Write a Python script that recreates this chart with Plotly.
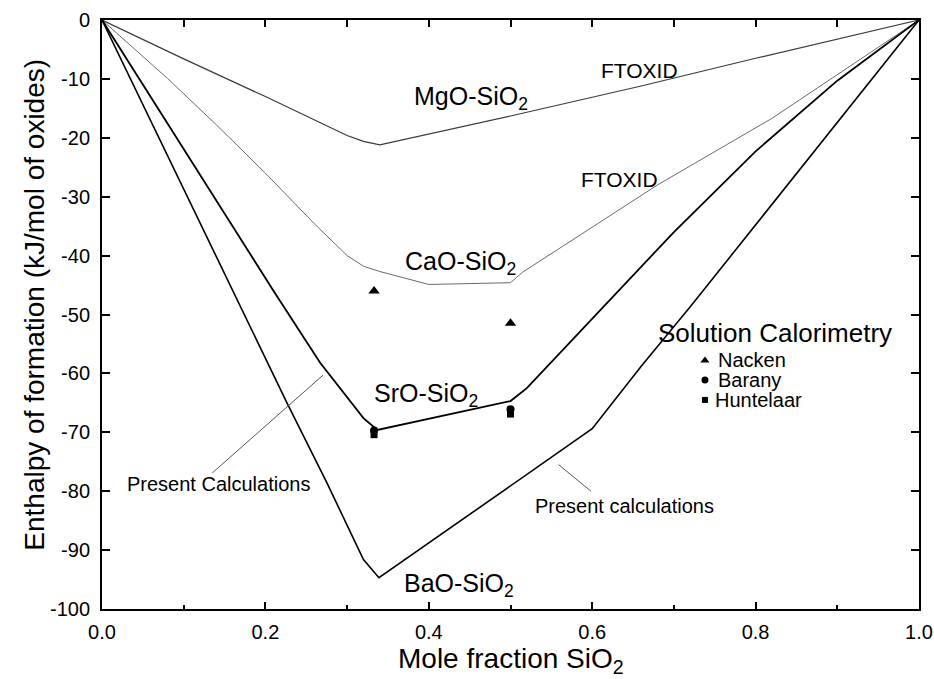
import plotly.graph_objects as go

# ---------------- data ----------------
mgo_x = [0, 0.10, 0.20, 0.26, 0.30, 0.32, 0.34, 0.50, 0.66, 0.80, 1.0]
mgo_y = [0, -6.6, -13.0, -17.0, -19.6, -20.6, -21.2, -16.3, -11.2, -6.5, 0]

cao_x = [0, 0.08, 0.14, 0.20, 0.26, 0.30, 0.32, 0.34, 0.40, 0.50, 0.515, 0.68, 0.82, 1.0]
cao_y = [0, -9.9, -17.8, -26.0, -34.6, -40.0, -41.8, -42.7, -44.9, -44.6, -42.8, -28.0, -16.7, 0]

sro_x = [0, 0.21, 0.267, 0.32, 0.337, 0.50, 0.52, 0.60, 0.70, 0.80, 0.90, 1.0]
sro_y = [0, -46.0, -58.2, -67.6, -69.6, -64.7, -62.5, -50.8, -36.0, -22.3, -10.3, 0]

bao_x = [0, 0.2264, 0.275, 0.32, 0.339, 0.60, 0.66, 0.72, 1.0]
bao_y = [0, -65.0, -78.5, -91.6, -94.7, -69.4, -58.8, -48.7, 0]

nacken_x = [0.333, 0.5]
nacken_y = [-46.0, -51.5]
barany_x = [0.333, 0.5]
barany_y = [-69.7, -66.1]
huntelaar_x = [0.333, 0.5]
huntelaar_y = [-70.4, -66.9]

x_ticks = [0.0, 0.2, 0.4, 0.6, 0.8, 1.0]
y_ticks = [0, -10, -20, -30, -40, -50, -60, -70, -80, -90, -100]

FONT = "Arial, Liberation Sans, sans-serif"

fig = go.Figure()

def curve(x, y, color, width):
    fig.add_trace(go.Scatter(x=x, y=y, mode="lines",
                             line=dict(color=color, width=width),
                             showlegend=False, hoverinfo="skip", cliponaxis=False))

curve(mgo_x, mgo_y, "#3a3a3a", 1.2)
curve(cao_x, cao_y, "#6a6a6a", 1.0)
curve(sro_x, sro_y, "#000000", 1.8)
curve(bao_x, bao_y, "#000000", 1.6)

def pts(x, y, symbol, size):
    fig.add_trace(go.Scatter(x=x, y=y, mode="markers",
                             marker=dict(symbol=symbol, size=size, color="black"),
                             showlegend=False, hoverinfo="skip"))

pts(nacken_x, nacken_y, "triangle-up", 10)
pts(barany_x, barany_y, "circle", 8)
pts(huntelaar_x, huntelaar_y, "square", 7)

# custom legend markers
leg_x = 0.738
pts([leg_x], [-57.8], "triangle-up", 8)
pts([leg_x], [-61.1], "circle", 7)
pts([leg_x], [-64.5], "square", 6)

# top-axis ticks every 0.1 (drawn on an overlaid axis)
fig.add_trace(go.Scatter(x=[0, 1], y=[0, 0], xaxis="x2", mode="lines",
                         line=dict(width=0), showlegend=False, hoverinfo="skip"))

# leader lines
fig.add_shape(type="line", x0=0.135, y0=-76.9, x1=0.2705, y1=-60.3,
              line=dict(color="#555555", width=1))
fig.add_shape(type="line", x0=0.5589, y0=-75.5, x1=0.5985, y1=-80.0,
              line=dict(color="#555555", width=1))

def txt(x, y, s, size, xanchor="left"):
    fig.add_annotation(x=x, y=y, text=s, showarrow=False, xanchor=xanchor,
                       yanchor="middle", font=dict(family=FONT, size=size, color="black"))

txt(0.380, -13.3, "MgO-SiO<sub>2</sub>", 25)
txt(0.369, -41.3, "CaO-SiO<sub>2</sub>", 25)
txt(0.3305, -63.6, "SrO-SiO<sub>2</sub>", 25)
txt(0.367, -95.9, "BaO-SiO<sub>2</sub>", 25)
txt(0.658, -8.6, "FTOXID", 21, "center")
txt(0.634, -27.1, "FTOXID", 21, "center")
txt(0.142, -78.7, "Present Calculations", 20, "center")
txt(0.639, -82.5, "Present calculations", 20, "center")
txt(0.678, -53.1, "Solution Calorimetry", 26)
txt(0.751, -57.7, "Nacken", 20)
txt(0.751, -61.2, "Barany", 20)
txt(0.748, -64.6, "Huntelaar", 20)

# axis titles
fig.add_annotation(xref="paper", yref="paper", x=0.5, y=-0.088,
                   text="Mole fraction SiO<sub>2</sub>", showarrow=False,
                   xanchor="center", yanchor="middle",
                   font=dict(family=FONT, size=28, color="black"))
fig.add_annotation(xref="paper", yref="paper", x=-0.083, y=0.517,
                   text="Enthalpy of formation (kJ/mol of oxides)", showarrow=False,
                   textangle=-90, xanchor="center", yanchor="middle",
                   font=dict(family=FONT, size=28, color="black"))

fig.update_layout(
    xaxis=dict(range=[0, 1], tickmode="array", tickvals=x_ticks,
               ticktext=[f"{v:.1f}" for v in x_ticks],
               ticks="inside", ticklen=7, tickwidth=1.5, tickcolor="black",
               minor=dict(dtick=0.1, ticks="inside", ticklen=4, tickwidth=1.5, tickcolor="black"),
               showline=True, linewidth=2, linecolor="black", mirror=True,
               showgrid=False, zeroline=False, ticklabelstandoff=4, automargin=False,
               tickfont=dict(family=FONT, size=20, color="black")),
    xaxis2=dict(range=[0, 1], overlaying="x", side="top", dtick=0.1, tick0=0,
                ticks="inside", ticklen=7, tickwidth=1.5, tickcolor="black",
                showticklabels=False, showline=False, showgrid=False, zeroline=False,
                automargin=False),
    yaxis=dict(range=[-100, 0], tickmode="array", tickvals=y_ticks,
               ticktext=[str(v) for v in y_ticks],
               ticks="inside", ticklen=8, tickwidth=1.5, tickcolor="black",
               showline=True, linewidth=2, linecolor="black", mirror="ticks",
               showgrid=False, zeroline=False, ticklabelstandoff=6, automargin=False,
               tickfont=dict(family=FONT, size=20, color="black")),
    width=934, height=679,
    margin=dict(l=102, r=15, t=20, b=70, autoexpand=False),
    plot_bgcolor="white", paper_bgcolor="white",
    font=dict(family=FONT, color="black"))

fig.write_html("out.html")
